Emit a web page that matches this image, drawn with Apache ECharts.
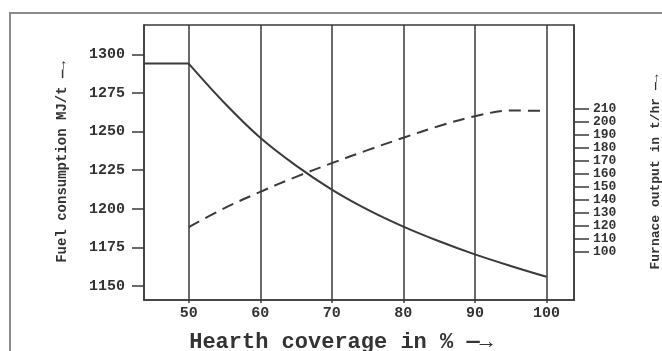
<!DOCTYPE html>
<html>
<head>
<meta charset="utf-8">
<script src="https://cdn.jsdelivr.net/npm/echarts@6/dist/echarts.min.js"></script>
<style>html,body{margin:0;padding:0;background:#fff;}#c{width:662px;height:351px;}</style>
</head>
<body>
<div id="c"></div>
<script>
// Data
var coverage = [50, 55, 60, 65, 70, 75, 80, 85, 90, 95, 100];
var fuelConsumption = [1294, 1268.5, 1246, 1228, 1212.5, 1199.5, 1188.5, 1179, 1170.5, 1163, 1156];
var furnaceOutput = [119, 133.5, 146, 157.5, 168, 178, 187.5, 196.5, 204, 208.4, 208.1];
var flatCoverage = [43.75, 50];
var flatFuel = [1294, 1294];
var xTicks = [50, 60, 70, 80, 90, 100];
var fuelTicks = [1150, 1175, 1200, 1225, 1250, 1275, 1300];
var outputTicks = [100, 110, 120, 130, 140, 150, 160, 170, 180, 190, 200, 210];

var ink = '#3a3a3a';
function plain(v) { return String(v); }
var labelFont = {fontFamily: 'Liberation Mono', fontWeight: 'bold', fontSize: 15, color: '#333', formatter: plain};

var chart = echarts.init(document.getElementById('c'), null, {renderer: 'canvas'});
chart.setOption({
  animation: false,
  backgroundColor: '#ffffff',
  graphic: [
    {type: 'rect', shape: {x: 10, y: 13, width: 700, height: 400}, style: {fill: 'none', stroke: '#8a8a8a', lineWidth: 2}, z: 0},
    {type: 'text', x: 62, y: 162, rotation: Math.PI / 2, style: {text: 'Fuel consumption MJ/t \u2014\u2192', font: 'bold 14px "Liberation Mono"', fill: '#333', align: 'center', verticalAlign: 'middle'}, z: 10},
    {type: 'text', x: 656, y: 172, rotation: Math.PI / 2, style: {text: 'Furnace output in t/hr \u2014\u2192', font: 'bold 13px "Liberation Mono"', fill: '#333', align: 'center', verticalAlign: 'middle'}, z: 10},
    {type: 'text', x: 341, y: 342, style: {text: 'Hearth coverage in % \u2014\u2192', font: 'bold 22px "Liberation Mono"', fill: '#333', align: 'center', verticalAlign: 'middle'}, z: 10}
  ],
  grid: {left: 144, right: 88, top: 25, bottom: 51, show: true, borderColor: ink, borderWidth: 1.5, backgroundColor: 'transparent'},
  xAxis: {
    type: 'value', min: 43.75, max: 103.85,
    axisLine: {show: true, onZero: false, lineStyle: {color: ink, width: 1.5}},
    axisTick: {show: true, customValues: xTicks, length: 3, lineStyle: {color: ink, width: 1.5}},
    axisLabel: Object.assign({customValues: xTicks, margin: 6}, labelFont),
    splitLine: {show: true, lineStyle: {color: ink, width: 1.5}}
  },
  yAxis: [
    {
      type: 'value', min: 1141, max: 1319, position: 'left',
      axisLine: {show: true, lineStyle: {color: ink, width: 1.5}},
      axisTick: {show: true, customValues: fuelTicks, length: 12, lineStyle: {color: ink, width: 1.5}},
      axisLabel: Object.assign({customValues: fuelTicks, margin: 19}, labelFont),
      splitLine: {show: false}
    },
    {
      type: 'value', min: 63, max: 274, position: 'right',
      axisLine: {show: true, lineStyle: {color: ink, width: 1.5}},
      axisTick: {show: true, customValues: outputTicks, length: 15, lineStyle: {color: ink, width: 1.5}},
      axisLabel: Object.assign({customValues: outputTicks, margin: 19, hideOverlap: false, showMinLabel: true, showMaxLabel: true}, labelFont, {fontSize: 13, lineHeight: 13}),
      splitLine: {show: false}
    }
  ],
  series: [
    {
      type: 'line', yAxisIndex: 0, symbol: 'none',
      data: flatCoverage.map(function (x, i) { return [x, flatFuel[i]]; }),
      lineStyle: {color: ink, width: 2}
    },
    {
      type: 'line', yAxisIndex: 0, symbol: 'none', smooth: 0.35,
      data: coverage.map(function (x, i) { return [x, fuelConsumption[i]]; }),
      lineStyle: {color: ink, width: 2}
    },
    {
      type: 'line', yAxisIndex: 1, symbol: 'none', smooth: 0.35,
      data: coverage.map(function (x, i) { return [x, furnaceOutput[i]]; }),
      lineStyle: {color: ink, width: 2, type: [12, 7]}
    }
  ]
});
</script>
</body>
</html>
